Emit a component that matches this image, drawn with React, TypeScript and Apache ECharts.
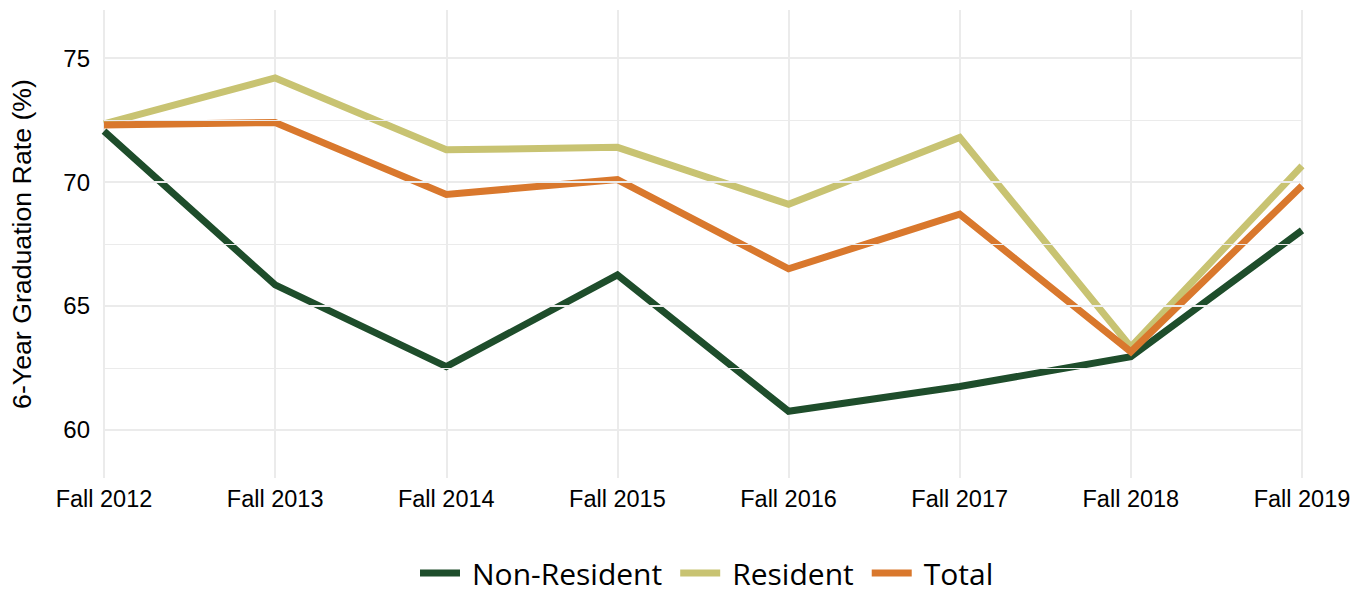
import React, { useEffect, useRef } from "react";
import * as echarts from "echarts";

const categories = ["Fall 2012", "Fall 2013", "Fall 2014", "Fall 2015", "Fall 2016", "Fall 2017", "Fall 2018", "Fall 2019"];
const nonResident = [72.05, 65.85, 62.55, 66.25, 60.75, 61.75, 62.95, 68.05];
const resident = [72.35, 74.2, 71.3, 71.4, 69.1, 71.8, 63.35, 70.65];
const total = [72.3, 72.4, 69.5, 70.1, 66.5, 68.7, 63.15, 69.85];
const majorTicks = [60, 65, 70, 75];
const minorTicks = [62.5, 67.5, 72.5];
const yMin = 58.06;
const yMax = 76.94;

export default function App() {
  const ref = useRef<HTMLDivElement>(null);
  useEffect(() => {
    if (!ref.current) return;
    const chart = echarts.init(ref.current, null, { renderer: "svg" });
    const font = "'Liberation Sans', Arial, sans-serif";
    const lineSeries = (name: string, data: number[], color: string) => ({
      name,
      type: "line",
      data,
      symbol: "none",
      z: 3,
      lineStyle: { color, width: 7, cap: "butt", join: "miter" },
      itemStyle: { color },
    });
    chart.setOption({
      animation: false,
      backgroundColor: "#ffffff",
      grid: { left: 104, right: 64, top: 10, bottom: 111, containLabel: false, outerBoundsMode: "none" },
      legend: {
        data: ["Non-Resident", "Resident", "Total"],
        left: 420,
        top: 558,
        padding: 0,
        itemWidth: 40,
        itemHeight: 7,
        itemGap: 18,
        icon: "rect",
        textStyle: {
          fontFamily: "'Open Sans', 'Noto Sans', sans-serif",
          fontSize: 30,
          color: "#000",
          padding: [0, 0, 0, 7],
        },
      },
      xAxis: {
        type: "category",
        data: categories,
        boundaryGap: false,
        axisLine: { show: false },
        axisTick: { show: false },
        axisLabel: { color: "#000", fontFamily: font, fontSize: 23.5, margin: 9 },
        splitLine: { show: true, lineStyle: { color: "#ebebeb", width: 2 } },
      },
      yAxis: {
        type: "value",
        min: yMin,
        max: yMax,
        name: "6-Year Graduation Rate (%)",
        nameLocation: "middle",
        nameGap: 69,
        nameTextStyle: { color: "#000", fontFamily: font, fontSize: 26.7 },
        axisLine: { show: false },
        axisTick: { show: false },
        splitLine: { show: false },
        axisLabel: {
          customValues: majorTicks,
          color: "#000",
          fontFamily: font,
          fontSize: 24,
          margin: 14,
        },
      },
      series: [
        {
          name: "grid",
          type: "line",
          data: [],
          z: 1,
          silent: true,
          markLine: {
            silent: true,
            symbol: "none",
            label: { show: false },
            data: [
              ...minorTicks.map((v) => ({ yAxis: v, lineStyle: { color: "#ebebeb", width: 1, type: "solid" } })),
              ...majorTicks.map((v) => ({ yAxis: v, lineStyle: { color: "#ebebeb", width: 2, type: "solid" } })),
            ],
          },
        },
        lineSeries("Non-Resident", nonResident, "#1e4d2b"),
        lineSeries("Resident", resident, "#c8c372"),
        lineSeries("Total", total, "#d9782d"),
      ],
    });
    return () => chart.dispose();
  }, []);
  return <div ref={ref} style={{ position: "fixed", left: 0, top: 0, width: 1366, height: 589 }} />;
}
